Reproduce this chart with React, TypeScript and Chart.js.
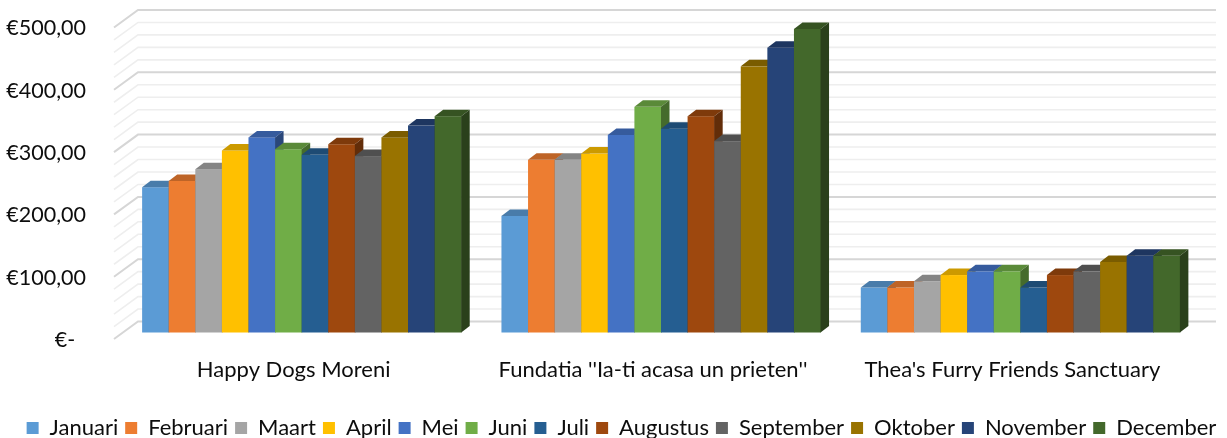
import React, { useEffect, useRef } from 'react';
import { Chart, registerables } from 'chart.js';

Chart.register(...registerables);

// ---------- data ----------
const categories = [
  'Happy Dogs Moreni',
  "Fundatia ''Ia-ti acasa un prieten''",
  "Thea's Furry Friends Sanctuary",
];

const months = [
  'Januari', 'Februari', 'Maart', 'April', 'Mei', 'Juni',
  'Juli', 'Augustus', 'September', 'Oktober', 'November', 'December',
];

const januari = [234, 188, 73];
const februari = [244, 278, 73];
const maart = [263, 278, 83];
const april = [293, 288, 93];
const mei = [314, 318, 99];
const juni = [295, 363, 99];
const juli = [286, 328, 73];
const augustus = [303, 348, 93];
const september = [284, 308, 99];
const oktober = [314, 428, 114];
const november = [333, 458, 124];
const december = [348, 488, 124];

const seriesValues = [
  januari, februari, maart, april, mei, juni,
  juli, augustus, september, oktober, november, december,
];

const seriesColors = [
  '#5B9BD5', '#ED7D31', '#A5A5A5', '#FFC000', '#4472C4', '#70AD47',
  '#255E91', '#9E480E', '#636363', '#997300', '#264478', '#43682B',
];

const yTicks = [0, 100, 200, 300, 400, 500];

// ---------- helpers ----------
function shade(hex: string, f: number): string {
  const n = parseInt(hex.slice(1), 16);
  const r = Math.round(((n >> 16) & 255) * f);
  const g = Math.round(((n >> 8) & 255) * f);
  const b = Math.round((n & 255) * f);
  return `rgb(${r},${g},${b})`;
}

function formatEuro(v: number): string {
  if (v === 0) return '€-\u2002';
  return '€' + v.toFixed(2).replace('.', ',');
}

// shift the legend a little to the right, as in the reference
const legendShift = {
  id: 'legendShift',
  afterLayout(chart: any) {
    if (chart.legend) {
      chart.legend.left += 8;
      chart.legend.right += 8;
    }
  },
};

// 3D look: back wall, side wall and extruded bars
const threeD = {
  id: 'threeD',
  beforeDatasetsDraw(chart: any) {
    const ctx = chart.ctx;
    const ys = chart.scales.y;
    const { left, right } = chart.chartArea;
    const BDX = 16, BDY = 11.5; // back wall offset
    const FDX = -8, FDY = 6; // front edge offset
    ctx.save();
    for (const pass of [0, 1]) {
      for (let v = 0; v <= 500; v += 20) {
        const major = v % 100 === 0;
        if ((pass === 1) !== major) continue;
        const py = ys.getPixelForValue(v);
        ctx.strokeStyle = major ? '#d6d6d6' : '#eeeeee';
        ctx.lineWidth = major ? 2 : 1.6;
        ctx.beginPath();
        ctx.moveTo(left + FDX, py + FDY);
        ctx.lineTo(left + BDX, py - BDY);
        ctx.lineTo(right + BDX, py - BDY);
        ctx.stroke();
      }
    }
    const DX = 8.5, DY = 6.5;
    const nCat = categories.length;
    for (let j = 0; j < nCat; j++) {
      for (let i = 0; i < seriesValues.length; i++) {
        const meta = chart.getDatasetMeta(i);
        if (!meta || meta.hidden) continue;
        const el = meta.data[j];
        if (!el) continue;
        const p = el.getProps(['x', 'y', 'base', 'width'], true);
        const l = p.x - p.width / 2;
        const r = p.x + p.width / 2;
        const t = p.y;
        const b = p.base;
        const c = seriesColors[i];
        ctx.fillStyle = c;
        ctx.fillRect(l, t, r - l + 0.5, b - t);
        ctx.fillStyle = shade(c, 0.8);
        ctx.beginPath();
        ctx.moveTo(l, t);
        ctx.lineTo(l + DX, t - DY);
        ctx.lineTo(r + DX, t - DY);
        ctx.lineTo(r, t);
        ctx.closePath();
        ctx.fill();
        ctx.fillStyle = shade(c, 0.62);
        ctx.beginPath();
        ctx.moveTo(r, t);
        ctx.lineTo(r + DX, t - DY);
        ctx.lineTo(r + DX, b - DY);
        ctx.lineTo(r, b);
        ctx.closePath();
        ctx.fill();
      }
    }
    ctx.restore();
    return false;
  },
};

export default function App() {
  const ref = useRef<HTMLCanvasElement | null>(null);

  useEffect(() => {
    if (!ref.current) return;
    Chart.defaults.font.family = 'Lato';
    Chart.defaults.color = '#0d0d0d';
    const chart = new Chart(ref.current, {
      type: 'bar',
      data: {
        labels: categories,
        datasets: months.map((m, i) => ({
          label: m,
          data: seriesValues[i],
          backgroundColor: seriesColors[i],
          borderWidth: 0,
          barPercentage: 1,
          categoryPercentage: 0.888,
        })),
      },
      options: {
        animation: false,
        responsive: true,
        maintainAspectRatio: false,
        layout: { padding: { left: 0, right: 0, top: 21.5, bottom: 0 } },
        plugins: {
          tooltip: { enabled: false },
          legend: {
            position: 'bottom',
            maxHeight: 28,
            labels: {
              boxWidth: 12,
              boxHeight: 12,
              padding: 7,
              color: '#0d0d0d',
              font: { size: 22, family: 'Lato' },
            },
          },
        },
        scales: {
          x: {
            grid: { display: false, drawTicks: false },
            border: { display: false },
            ticks: {
              padding: 23.8,
              labelOffset: -8,
              maxRotation: 0,
              autoSkip: false,
              color: '#0d0d0d',
              font: { size: 22, family: 'Lato' },
            },
            afterFit: (s: any) => { s.height = 77; },
          },
          y: {
            min: 0,
            max: 500,
            grid: {
              display: true,
              drawOnChartArea: false,
              drawTicks: true,
              tickLength: 32,
              tickColor: 'rgba(0,0,0,0)',
              color: 'rgba(0,0,0,0)',
            },
            border: { display: false },
            afterBuildTicks: (s: any) => { s.ticks = yTicks.map((v) => ({ value: v })); },
            ticks: {
              padding: 4,
              labelOffset: 7,
              color: '#0d0d0d',
              font: { size: 21.5, family: 'Lato' },
              callback: (v: any) => formatEuro(Number(v)),
            },
            afterFit: (s: any) => { s.width = 122; },
          },
          yRight: {
            position: 'right',
            display: true,
            grid: { display: false, drawTicks: false },
            border: { display: false },
            ticks: { display: false },
            afterFit: (s: any) => { s.width = 27; },
          },
        },
      },
      plugins: [threeD, legendShift],
    });
    return () => chart.destroy();
  }, []);

  return (
    <div style={{ position: 'absolute', left: 0, top: 0, width: 1227, height: 438, background: '#fff' }}>
      <canvas ref={ref} />
    </div>
  );
}
